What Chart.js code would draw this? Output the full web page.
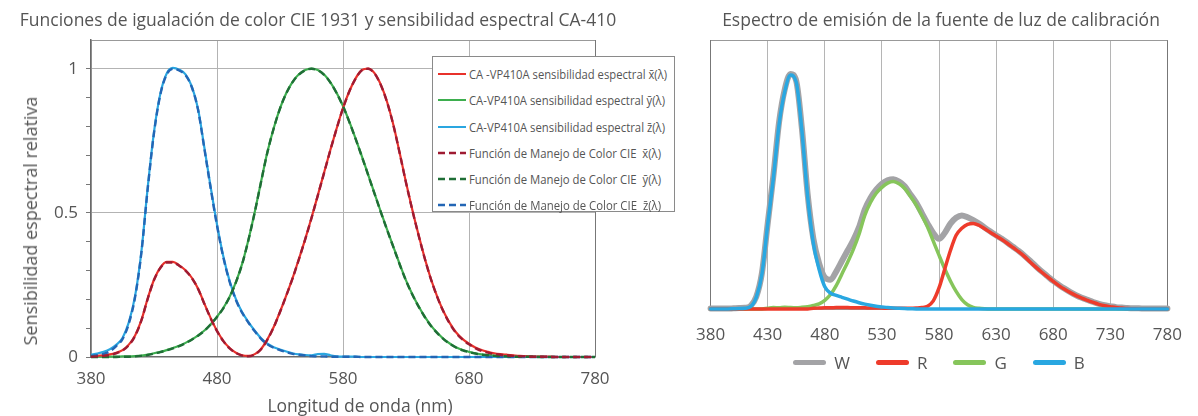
<!DOCTYPE html>
<html>
<head>
<meta charset="utf-8">
<script src="https://cdn.jsdelivr.net/npm/chart.js@4.4.1/dist/chart.umd.min.js"></script>
<style>
  html, body { margin:0; padding:0; background:#fff; }
  body { width:1198px; height:416px; position:relative; overflow:hidden; font-family:'Open Sans', 'Noto Sans', sans-serif; color:#555; }
  #cL { position:absolute; left:0; top:0; }
  #cR { position:absolute; left:680px; top:0; }
  .title { position:absolute; top:7px; font-size:17.5px; color:#555; white-space:nowrap; transform:translateX(-50%); }
  .axtitle { position:absolute; color:#555; white-space:nowrap; }
  #legL { position:absolute; left:432px; top:56px; width:243px; height:156px; border:1px solid #8a8a8a; background:#fff; box-sizing:border-box; }
  #legL .row { position:absolute; left:5px; height:16px; display:flex; align-items:center; font-size:12px; color:#555; white-space:pre; }
  #legL svg { margin-right:3px; flex:none; }
  #legL span { display:inline-block; transform-origin:0 50%; }
  #legR { position:absolute; left:680px; width:518px; top:352px; height:20px; display:flex; justify-content:center; align-items:center; gap:26px; font-size:17px; color:#555; }
  #legR .item { display:flex; align-items:center; }
  #legR .sw { width:33px; height:5px; border-radius:3px; margin-right:8px; }
</style>
</head>
<body>
<canvas id="cL" width="640" height="416"></canvas>
<canvas id="cR" width="518" height="416"></canvas>
<div class="title" style="left:318px">Funciones de igualación de color CIE 1931 y sensibilidad espectral CA-410</div>
<div class="title" style="left:941px">Espectro de emisión de la fuente de luz de calibración</div>
<div class="axtitle" id="yTitle" style="left:30px; top:221px; font-size:18px; transform:translate(-50%,-50%) rotate(-90deg);">Sensibilidad espectral relativa</div>
<div class="axtitle" id="xTitle" style="left:360px; top:405px; font-size:17.5px; transform:translate(-50%,-50%);">Longitud de onda (nm)</div>
<div id="legL"></div>
<div id="legR"></div>
<script>
// ---------- Shared wavelength categories (nm) ----------
const wavelengths = [380,385,390,395,400,405,410,415,420,425,430,435,440,445,450,455,460,465,470,475,480,485,490,495,500,505,510,515,520,525,530,535,540,545,550,555,560,565,570,575,580,585,590,595,600,605,610,615,620,625,630,635,640,645,650,655,660,665,670,675,680,685,690,695,700,705,710,715,720,725,730,735,740,745,750,755,760,765,770,775,780];

// ---------- Left chart: CIE 1931 colour matching functions (dashed) ----------
const cieX = [0.001,0.002,0.004,0.007,0.013,0.022,0.041,0.073,0.127,0.202,0.267,0.309,0.328,0.328,0.317,0.300,0.274,0.236,0.184,0.134,0.090,0.055,0.030,0.014,0.005,0.002,0.009,0.027,0.060,0.103,0.156,0.213,0.273,0.339,0.408,0.482,0.560,0.639,0.718,0.793,0.863,0.921,0.966,0.995,1.000,0.984,0.944,0.884,0.804,0.707,0.605,0.510,0.422,0.340,0.267,0.206,0.155,0.114,0.082,0.060,0.044,0.031,0.021,0.015,0.011,0.008,0.006,0.004,0.003,0.002,0.001,0.001,0.001,0,0,0,0,0,0,0,0];
const cieY = [0,0,0,0,0,0.001,0.001,0.002,0.004,0.007,0.012,0.017,0.023,0.030,0.038,0.048,0.060,0.074,0.091,0.113,0.139,0.169,0.208,0.259,0.323,0.407,0.503,0.608,0.710,0.793,0.862,0.915,0.954,0.980,0.995,1.000,0.995,0.979,0.952,0.915,0.870,0.816,0.757,0.695,0.631,0.567,0.503,0.441,0.381,0.321,0.265,0.217,0.175,0.138,0.107,0.082,0.061,0.045,0.032,0.023,0.017,0.012,0.008,0.006,0.004,0.003,0.002,0.001,0.001,0.001,0.001,0,0,0,0,0,0,0,0,0,0];
const cieZ = [0.004,0.006,0.011,0.020,0.038,0.062,0.116,0.208,0.362,0.583,0.777,0.910,0.980,1.000,0.994,0.978,0.936,0.857,0.722,0.585,0.456,0.346,0.261,0.198,0.153,0.119,0.089,0.063,0.044,0.032,0.024,0.017,0.011,0.008,0.005,0.003,0.002,0.002,0.001,0.001,0.001,0.001,0.001,0,0,0,0,0,0,0,0,0,0,0,0,0,0,0,0,0,0,0,0,0,0,0,0,0,0,0,0,0,0,0,0,0,0,0,0,0,0];

// ---------- Left chart: CA-VP410A spectral sensitivity (solid) ----------
const sensX = [0.003,0.004,0.006,0.009,0.015,0.024,0.043,0.075,0.128,0.203,0.268,0.310,0.330,0.330,0.318,0.301,0.275,0.237,0.185,0.135,0.091,0.056,0.031,0.015,0.006,0.004,0.010,0.028,0.061,0.104,0.157,0.214,0.274,0.340,0.409,0.483,0.561,0.640,0.719,0.794,0.864,0.922,0.967,0.996,1.001,0.985,0.945,0.885,0.805,0.708,0.606,0.511,0.423,0.341,0.268,0.207,0.156,0.116,0.084,0.062,0.046,0.033,0.024,0.018,0.013,0.010,0.008,0.006,0.004,0.003,0.002,0.001,0.001,0.001,0,0,0,0,0,0,0];
const sensY = [0.001,0.001,0.001,0.001,0.001,0.002,0.002,0.003,0.005,0.008,0.013,0.018,0.024,0.031,0.039,0.049,0.061,0.075,0.092,0.114,0.140,0.170,0.209,0.260,0.324,0.408,0.504,0.609,0.711,0.794,0.863,0.916,0.955,0.981,0.996,1.001,0.996,0.980,0.953,0.916,0.871,0.817,0.758,0.696,0.632,0.568,0.504,0.442,0.382,0.322,0.266,0.218,0.176,0.139,0.108,0.083,0.062,0.046,0.033,0.024,0.018,0.013,0.009,0.007,0.005,0.004,0.003,0.002,0.002,0.001,0.001,0.001,0,0,0,0,0,0,0,0,0];
const sensZ = [0.008,0.012,0.018,0.027,0.042,0.066,0.120,0.212,0.366,0.588,0.781,0.913,0.983,1.003,0.997,0.981,0.939,0.860,0.726,0.589,0.460,0.350,0.264,0.201,0.155,0.121,0.091,0.065,0.046,0.034,0.026,0.019,0.013,0.009,0.007,0.006,0.010,0.011,0.006,0.002,0.001,0.001,0.001,0,0,0,0,0,0,0,0,0,0,0,0,0,0,0,0,0,0,0,0,0,0,0,0,0,0,0,0,0,0,0,0,0,0,0,0,0,0];

const xTicksLeft = [380,480,580,680,780];
const yTicksLeft = [0,0.1,0.2,0.3,0.4,0.5,0.6,0.7,0.8,0.9,1.0,1.1];
const yLabelsLeft = [0,0.5,1];

const seriesLeftLabels = [
  'CA -VP410A sensibilidad espectral x\u0304(\u03bb)',
  'CA-VP410A sensibilidad espectral \u0233(\u03bb)',
  'CA-VP410A sensibilidad espectral z\u0304(\u03bb)',
  'Función de Manejo de Color CIE  x\u0304(\u03bb)',
  'Función de Manejo de Color CIE  \u0233(\u03bb)',
  'Función de Manejo de Color CIE  z\u0304(\u03bb)'
];

// ---------- Right chart: calibration light source emission ----------
const emissionW = [0.002,0.002,0.002,0.002,0.003,0.004,0.005,0.013,0.052,0.155,0.365,0.570,0.800,0.940,1.005,0.975,0.770,0.490,0.300,0.195,0.135,0.125,0.160,0.205,0.250,0.295,0.350,0.425,0.475,0.510,0.535,0.550,0.555,0.545,0.525,0.490,0.455,0.410,0.365,0.325,0.300,0.325,0.365,0.390,0.400,0.392,0.380,0.366,0.348,0.331,0.315,0.300,0.283,0.265,0.247,0.227,0.205,0.182,0.160,0.140,0.120,0.103,0.087,0.072,0.059,0.048,0.039,0.030,0.022,0.016,0.012,0.008,0.006,0.004,0.003,0.003,0.002,0.002,0.002,0.002,0.002];
const emissionR = [0,0,0,0,0,0,0,0,0,0,0,0,0,0,0,0,0,0,0.003,0.004,0.005,0.005,0.006,0.006,0.006,0.005,0.005,0.005,0.004,0.004,0.004,0.003,0.003,0.003,0.003,0.003,0.004,0.006,0.012,0.035,0.090,0.170,0.250,0.315,0.345,0.362,0.366,0.358,0.343,0.327,0.312,0.297,0.280,0.262,0.244,0.224,0.200,0.178,0.157,0.137,0.118,0.100,0.084,0.070,0.057,0.046,0.037,0.028,0.020,0.014,0.010,0.006,0.004,0.002,0.001,0,0,0,0,0,0];
const emissionG = [0,0,0,0,0,0,0,0,0,0,0.003,0.006,0.005,0.008,0.006,0.005,0.007,0.010,0.015,0.022,0.037,0.062,0.100,0.150,0.200,0.255,0.320,0.400,0.455,0.495,0.520,0.538,0.545,0.535,0.515,0.482,0.445,0.400,0.350,0.290,0.230,0.172,0.120,0.075,0.040,0.018,0.007,0.003,0.001,0,0,0,0,0,0,0,0,0,0,0,0,0,0,0,0,0,0,0,0,0,0,0,0,0,0,0,0,0,0,0,0];
const emissionB = [0,0,0,0,0.001,0.002,0.003,0.010,0.050,0.150,0.360,0.560,0.790,0.930,1.000,0.970,0.760,0.480,0.280,0.170,0.095,0.068,0.058,0.050,0.042,0.034,0.027,0.021,0.016,0.012,0.009,0.006,0.004,0.003,0.002,0.001,0,0,0,0,0,0,0,0,0,0,0,0,0,0,0,0,0,0,0,0,0,0,0,0,0,0,0,0,0,0,0,0,0,0,0,0,0,0,0,0,0,0,0,0,0];
const emissionLabels = ['W','R','G','B'];
const xTicksRight = [380,430,480,530,580,630,680,730,780];

// ---------- helpers ----------
const pts = (ys) => wavelengths.map((w, i) => ({x: w, y: ys[i]}));
const TICK_FONT = {family:"'Open Sans','Noto Sans',sans-serif", size:17};
const TICK_COLOR = '#555';

// ---------- Left chart ----------
const leftDefs = [
  {label: seriesLeftLabels[3], data: cieX,  color:'#9e1b32', dash:[7,4], width:2.4, order:0},
  {label: seriesLeftLabels[4], data: cieY,  color:'#1f6e36', dash:[7,4], width:2.4, order:0},
  {label: seriesLeftLabels[5], data: cieZ,  color:'#2366b5', dash:[7,4], width:2.4, order:0},
  {label: seriesLeftLabels[0], data: sensX, color:'#e8312b', dash:[],    width:2.2, order:1},
  {label: seriesLeftLabels[1], data: sensY, color:'#3dae4e', dash:[],    width:2.2, order:1},
  {label: seriesLeftLabels[2], data: sensZ, color:'#2aa6e0', dash:[],    width:2.2, order:1}
];

new Chart(document.getElementById('cL'), {
  type: 'line',
  data: {
    datasets: leftDefs.map(d => ({
      label: d.label, data: pts(d.data), borderColor: d.color, borderDash: d.dash,
      borderWidth: d.width, pointRadius: 0, fill: false, tension: 0.3,
      cubicInterpolationMode: 'monotone', order: d.order, clip: false
    }))
  },
  options: {
    responsive: false, animation: false, devicePixelRatio: 1,
    layout: {padding: {top: 40, left: 0, right: 45, bottom: 0}},
    plugins: {legend: {display: false}, tooltip: {enabled: false}, title: {display: false}},
    scales: {
      x: {
        type: 'linear', min: 380, max: 780,
        afterFit(s) { s.height = 59; },
        afterBuildTicks(s) { s.ticks = xTicksLeft.map(v => ({value: v})); },
        ticks: {font: TICK_FONT, color: TICK_COLOR, padding: 12, maxRotation: 0},
        grid: {drawTicks: false, color: c => (c.tick && c.tick.value === 780) ? '#777' : '#b3b3b3', lineWidth: 1},
        border: {color: '#6a6a6a', width: 1.5}
      },
      y: {
        type: 'linear', min: 0, max: 1.1,
        afterFit(s) { s.width = 91; },
        afterBuildTicks(s) { s.ticks = yTicksLeft.map(v => ({value: v})); },
        ticks: {
          font: TICK_FONT, color: TICK_COLOR, padding: 8,
          callback: (v) => yLabelsLeft.some(l => Math.abs(l - v) < 1e-9) ? String(v) : ''
        },
        grid: {
          drawTicks: true, tickLength: 5,
          color: c => {
            const v = c.tick ? c.tick.value : -1;
            if (Math.abs(v - 1.1) < 1e-9) return '#999';
            if (Math.abs(v - 0.5) < 1e-9 || Math.abs(v - 1) < 1e-9) return '#b3b3b3';
            return 'rgba(0,0,0,0)';
          },
          tickColor: c => (c.tick && Math.abs(c.tick.value - 1.1) < 1e-9) ? 'rgba(0,0,0,0)' : '#777'
        },
        border: {color: '#6a6a6a', width: 1.5}
      }
    }
  }
});

// Left legend (HTML, built from the datasets' labels and styles)
const legOrder = [3,4,5,0,1,2];
const legL = document.getElementById('legL');
const rowTops = [9, 35, 62, 88, 114, 140];
const rowTextWidths = [198,196,196,192,192,192];
legOrder.forEach((k, i) => {
  const d = leftDefs[k];
  const row = document.createElement('div');
  row.className = 'row';
  row.style.top = rowTops[i] + 'px';
  const dashAttr = d.dash.length ? `stroke-dasharray="${d.dash.join(' ')}"` : '';
  row.innerHTML = `<svg width="28" height="6"><line x1="0" y1="3" x2="28" y2="3" stroke="${d.color}" stroke-width="${d.dash.length ? 2.6 : 2}" ${dashAttr}/></svg><span>${d.label}</span>`;
  legL.appendChild(row);
  const sp = row.querySelector('span');
  const w = sp.getBoundingClientRect().width;
  if (w > 0) sp.style.transform = `scaleX(${rowTextWidths[i] / w})`;
});

// ---------- Right chart ----------
const rightDefs = [
  {label: emissionLabels[3], data: emissionB, color:'#29a7e1', width:3.5, order:0},
  {label: emissionLabels[1], data: emissionR, color:'#ee3b2b', width:3.5, order:1},
  {label: emissionLabels[2], data: emissionG, color:'#86c55b', width:3.5, order:2},
  {label: emissionLabels[0], data: emissionW, color:'#a3a3a6', width:6,   order:3}
];

new Chart(document.getElementById('cR'), {
  type: 'line',
  data: {
    datasets: rightDefs.map(d => ({
      label: d.label, data: pts(d.data), borderColor: d.color, borderWidth: d.width,
      pointRadius: 0, fill: false, tension: 0.3, cubicInterpolationMode: 'monotone',
      order: d.order, clip: false, borderCapStyle: 'round', borderJoinStyle: 'round'
    }))
  },
  options: {
    responsive: false, animation: false, devicePixelRatio: 1,
    layout: {padding: {top: 40, left: 0, right: 21, bottom: 0}},
    plugins: {legend: {display: false}, tooltip: {enabled: false}, title: {display: false}},
    scales: {
      x: {
        type: 'linear', min: 380, max: 780,
        afterFit(s) { s.height = 107; },
        afterBuildTicks(s) { s.ticks = xTicksRight.map(v => ({value: v})); },
        ticks: {font: TICK_FONT, color: TICK_COLOR, padding: 16, maxRotation: 0},
        grid: {drawTicks: false, color: c => (c.tick && c.tick.value === 780) ? '#777' : '#b5b5b5', lineWidth: 1},
        border: {color: '#999', width: 1}
      },
      y: {
        type: 'linear', min: 0, max: 1.15,
        afterFit(s) { s.width = 18; },
        afterBuildTicks(s) { s.ticks = [{value: 0}, {value: 1.15}]; },
        ticks: {display: false},
        grid: {drawTicks: false, color: c => (c.tick && c.tick.value > 1) ? '#999' : 'rgba(0,0,0,0)'},
        border: {color: '#777', width: 1}
      }
    }
  }
});

// Right legend (HTML, W R G B)
const legR = document.getElementById('legR');
['W','R','G','B'].forEach(name => {
  const d = rightDefs.find(r => r.label === name);
  const it = document.createElement('div');
  it.className = 'item';
  it.innerHTML = `<div class="sw" style="background:${d.color}"></div><span>${d.label}</span>`;
  legR.appendChild(it);
});
</script>
</body>
</html>
